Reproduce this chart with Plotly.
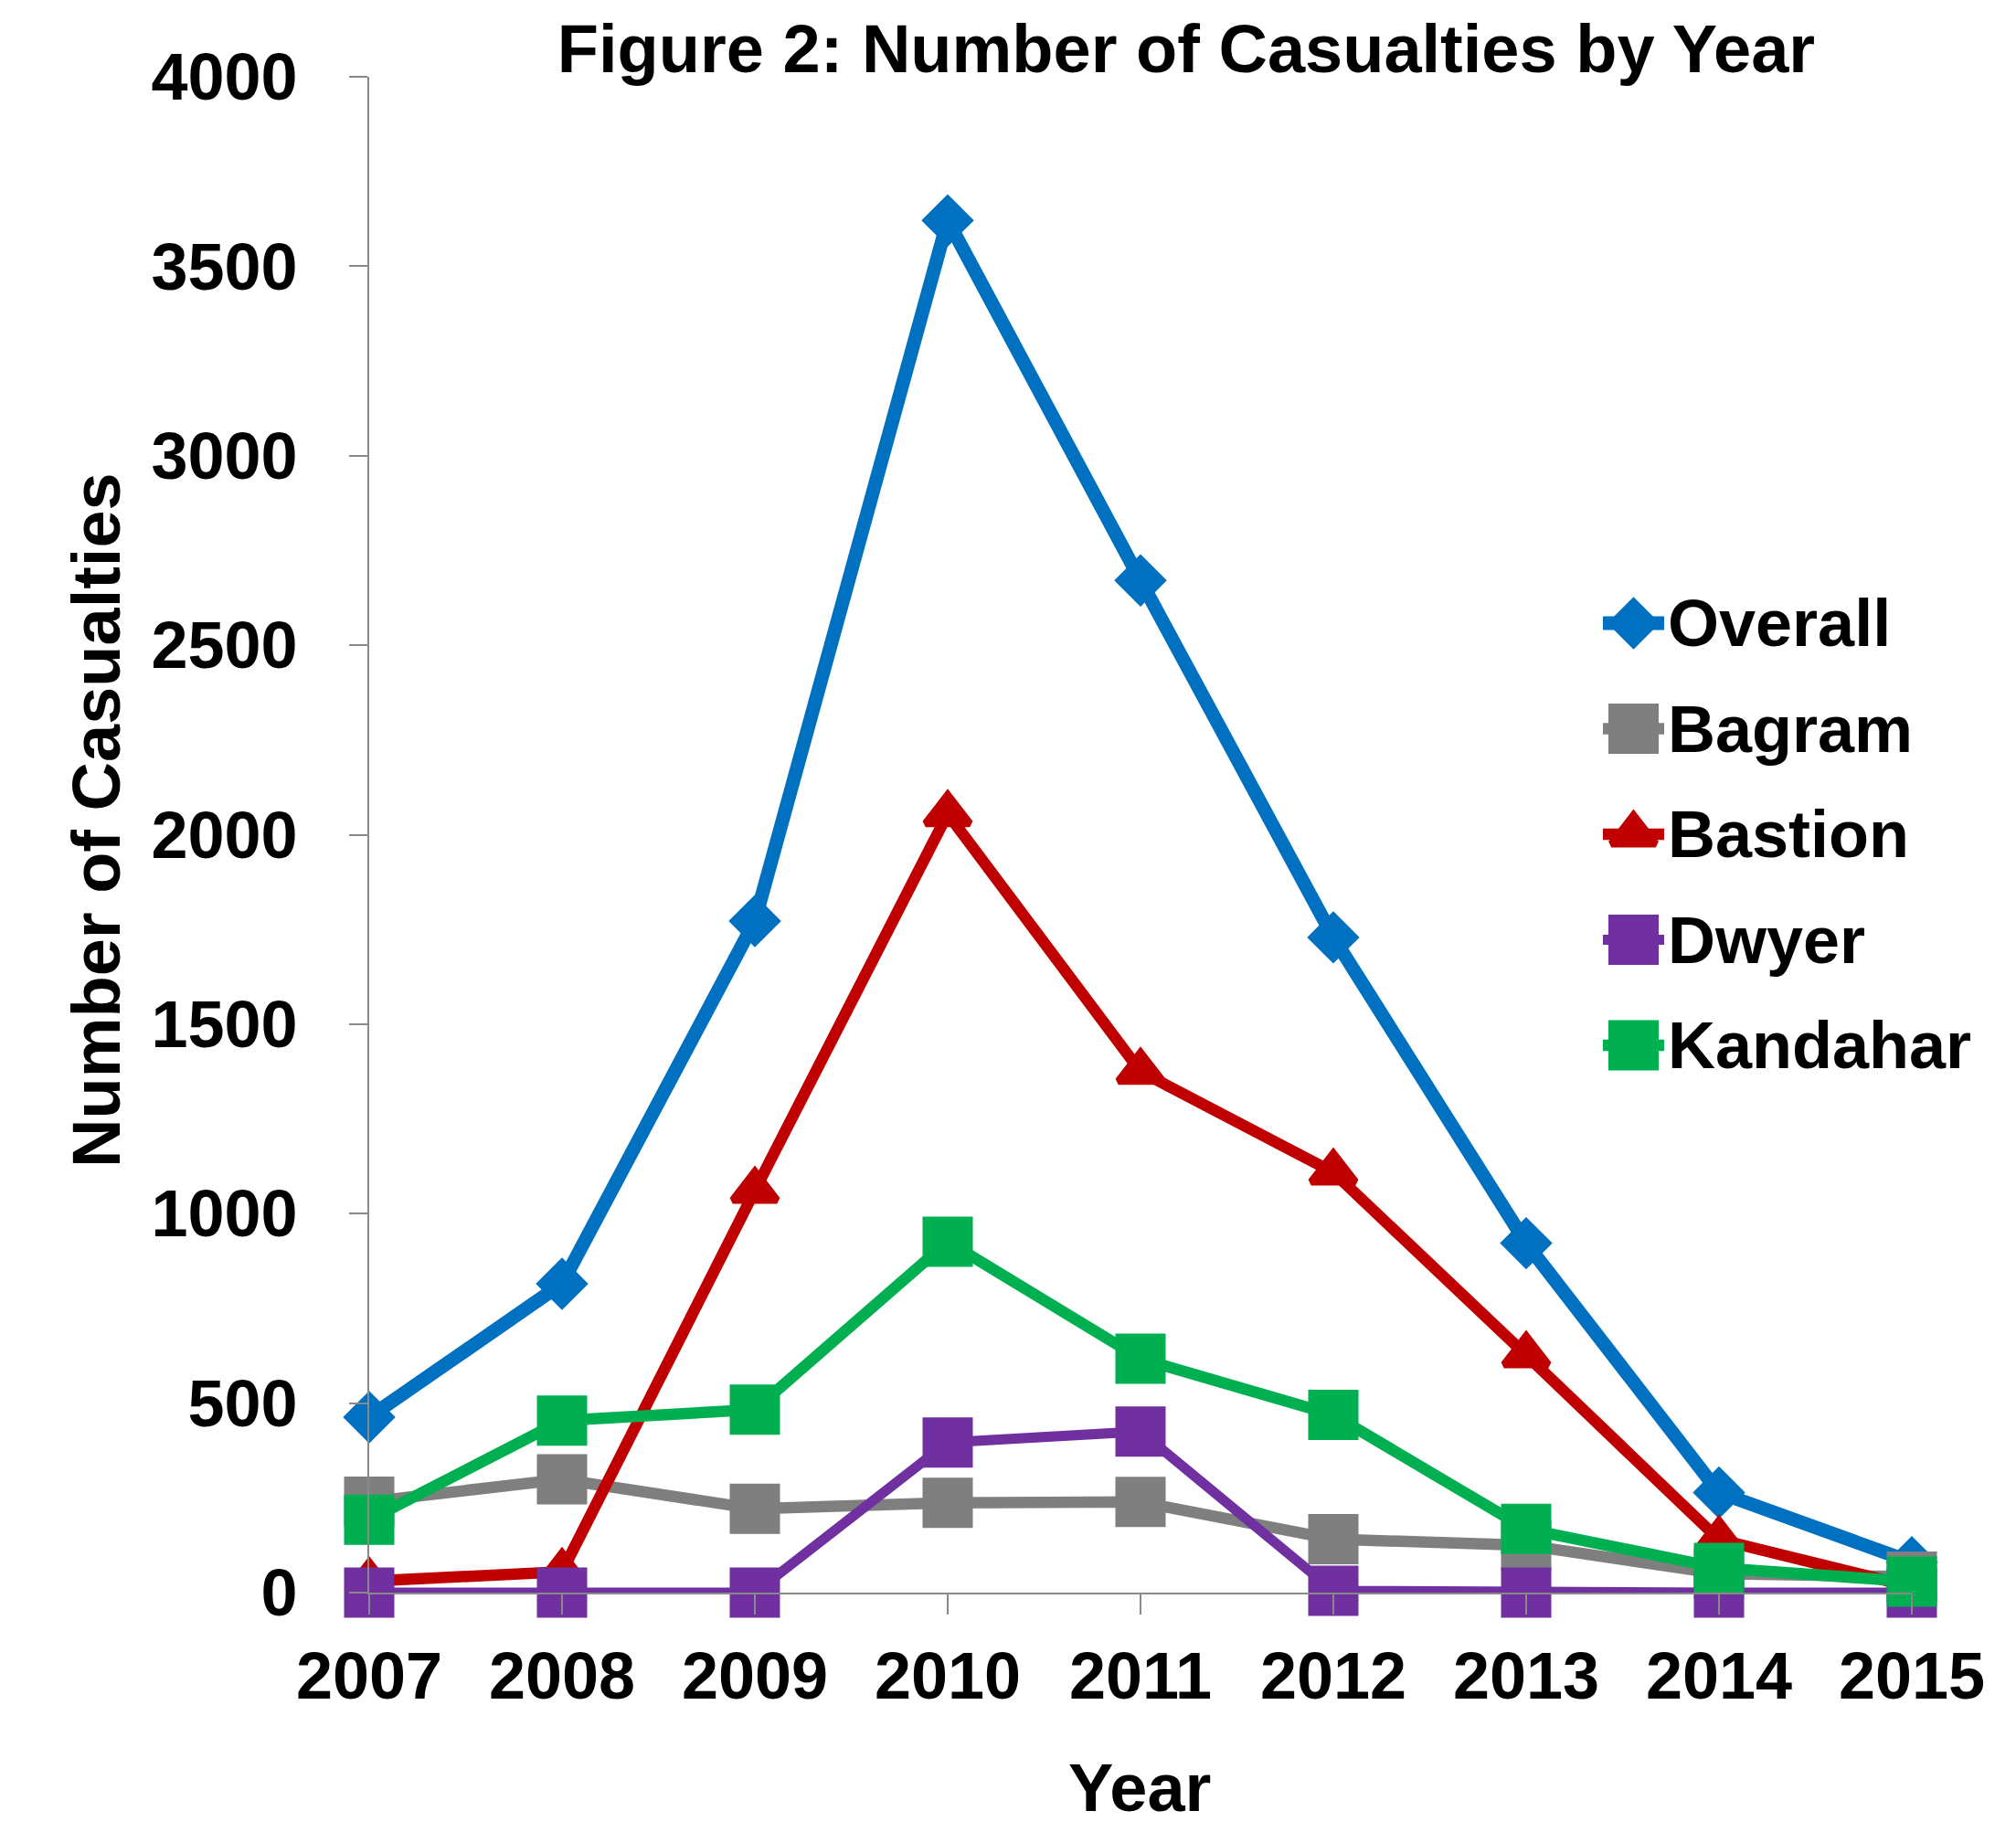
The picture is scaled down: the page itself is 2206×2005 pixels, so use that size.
import plotly.graph_objects as go

# Casualties per year at each location
years = [2007, 2008, 2009, 2010, 2011, 2012, 2013, 2014, 2015]
overall = [463, 815, 1772, 3621, 2671, 1729, 922, 264, 80]
bagram = [240, 299, 221, 237, 239, 141, 125, 50, 42]
bastion = [30, 55, 1061, 2055, 1375, 1109, 627, 140, 15]
dwyer = [0, 0, 0, 396, 425, 5, 0, 0, 0]
kandahar = [192, 454, 483, 926, 617, 469, 168, 65, 29]

series_names = ["Overall", "Bagram", "Bastion", "Dwyer", "Kandahar"]
series_values = [overall, bagram, bastion, dwyer, kandahar]
y_ticks = [0, 500, 1000, 1500, 2000, 2500, 3000, 3500, 4000]

title_text = "Figure 2: Number of Casualties by Year"
x_title = "Year"
y_title = "Number of Casualties"

# Visual style per series
colors = ["#0070C0", "#7F7F7F", "#C00000", "#7030A0", "#00B050"]
symbols = ["diamond", "square", "triangle-up", "square", "square"]
marker_sizes = [42, 53, 42, 53, 53]
marker_lines = [2, 2, 8, 2, 2]
line_widths = [15, 12.5, 12.5, 11, 12.5]

FONT = "Liberation Sans, Arial, sans-serif"
AXIS_GREY = "#898989"

W, H = 2206, 2005
M_L, M_R, M_T, M_B = 404, 114, 84, 262
PLOT_W = W - M_L - M_R
PLOT_H = H - M_T - M_B

fig = go.Figure()

for name, vals, c, sym, ms, mlw, lw in zip(series_names, series_values, colors,
                                          symbols, marker_sizes, marker_lines, line_widths):
    fig.add_trace(go.Scatter(
        x=years, y=vals, name=name, mode="lines+markers",
        line=dict(color=c, width=lw),
        marker=dict(symbol=sym, size=ms, color=c, line=dict(color=c, width=mlw)),
        cliponaxis=False, showlegend=False,
    ))

# Legend drawn on an overlay axis: one row per series
for i, (name, c, sym, ms, mlw, lw) in enumerate(zip(series_names, colors, symbols,
                                                    marker_sizes, marker_lines, line_widths)):
    fig.add_trace(go.Scatter(
        x=[0, 1], y=[i, i], xaxis="x2", yaxis="y2", mode="lines",
        line=dict(color=c, width=lw), showlegend=False, hoverinfo="skip",
        cliponaxis=False,
    ))
    fig.add_trace(go.Scatter(
        x=[0.5], y=[i], xaxis="x2", yaxis="y2", mode="markers",
        marker=dict(symbol=sym, size=ms, color=c, line=dict(color=c, width=mlw)),
        showlegend=False, hoverinfo="skip", cliponaxis=False,
    ))
    fig.add_annotation(
        x=1, y=i, xref="x2", yref="y2", text=name, showarrow=False,
        xanchor="left", yanchor="middle", xshift=2,
        font=dict(family=FONT, size=72, color="black", weight="bold"),
    )

def px_x(px):
    return (px - M_L) / PLOT_W

def px_y(py):
    return (H - M_B - py) / PLOT_H

fig.update_layout(
    width=W, height=H,
    margin=dict(l=M_L, r=M_R, t=M_T, b=M_B, pad=0),
    paper_bgcolor="white", plot_bgcolor="white",
    showlegend=False,
    title=dict(
        text=title_text, xref="container", yref="container",
        x=1298 / W, xanchor="center", y=1 - 53 / H, yanchor="middle",
        font=dict(family=FONT, size=74, color="black", weight="bold"),
    ),
    xaxis=dict(
        range=[years[0], years[-1]], tickvals=years, ticktext=[str(y) for y in years],
        showgrid=False, zeroline=False, showline=True, linecolor=AXIS_GREY, linewidth=2,
        ticks="outside", ticklen=22, tickwidth=2, tickcolor=AXIS_GREY,
        ticklabelstandoff=6,
        tickfont=dict(family=FONT, size=72, color="black", weight="bold"),
    ),
    yaxis=dict(
        range=[0, 4000], tickvals=y_ticks,
        showgrid=False, zeroline=False, showline=True, linecolor=AXIS_GREY, linewidth=2,
        ticks="outside", ticklen=20, tickwidth=2, tickcolor=AXIS_GREY,
        ticklabelstandoff=42,
        tickfont=dict(family=FONT, size=72, color="black", weight="bold"),
    ),
    xaxis2=dict(domain=[px_x(1754), px_x(1821)], range=[0, 1], visible=False,
                anchor="y2", fixedrange=True),
    yaxis2=dict(domain=[px_y(682 + 4.5 * 115.5), px_y(682 - 0.5 * 115.5)],
                range=[4.5, -0.5], visible=False, anchor="x2", fixedrange=True),
)

fig.add_annotation(
    text=y_title, xref="paper", yref="paper", x=px_x(105), y=px_y(898),
    textangle=-90, showarrow=False, xanchor="center", yanchor="middle",
    font=dict(family=FONT, size=74, color="black", weight="bold"),
)
fig.add_annotation(
    text=x_title, xref="paper", yref="paper", x=px_x(1247), y=px_y(1956),
    showarrow=False, xanchor="center", yanchor="middle",
    font=dict(family=FONT, size=74, color="black", weight="bold"),
)

fig.write_html("out.html")
